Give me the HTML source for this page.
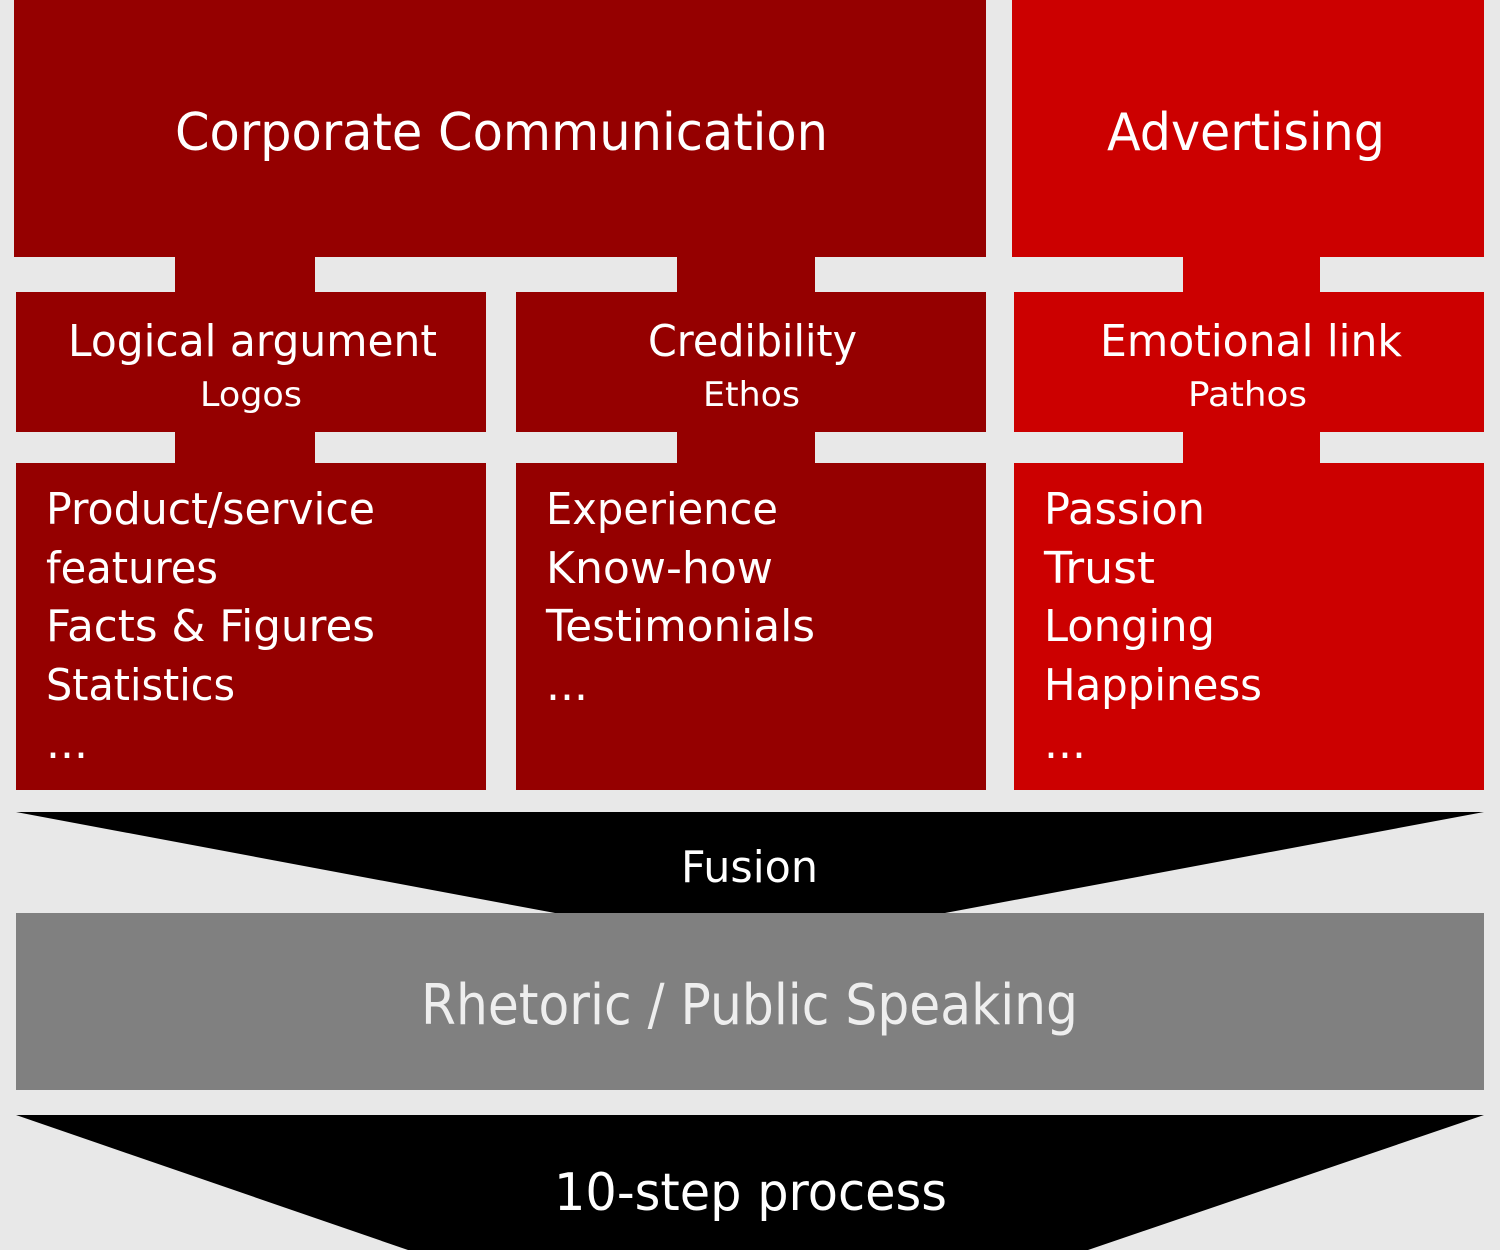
<!DOCTYPE html>
<html><head><meta charset="utf-8"><style>
html,body{margin:0;padding:0;background:#e8e8e8;}
svg{display:block;}
text{font-family:"DejaVu Sans","Liberation Sans",sans-serif;fill:#fff;}
</style></head><body>
<svg width="1500" height="1250" viewBox="0 0 1500 1250" xmlns="http://www.w3.org/2000/svg">
<rect width="1500" height="1250" fill="#e8e8e8"/>
<!-- top -->
<rect x="14" y="0" width="972" height="257" fill="#950000"/>
<rect x="1012" y="0" width="472" height="257" fill="#cc0000"/>
<!-- connectors -->
<rect x="175" y="255" width="140" height="40" fill="#950000"/>
<rect x="677" y="255" width="138" height="40" fill="#950000"/>
<rect x="1183" y="255" width="137" height="40" fill="#cc0000"/>
<rect x="175" y="430" width="140" height="35" fill="#950000"/>
<rect x="677" y="430" width="138" height="35" fill="#950000"/>
<rect x="1183" y="430" width="137" height="35" fill="#cc0000"/>
<!-- mid -->
<rect x="16" y="292" width="470" height="140" fill="#950000"/>
<rect x="516" y="292" width="470" height="140" fill="#950000"/>
<rect x="1014" y="292" width="470" height="140" fill="#cc0000"/>
<!-- bottom -->
<rect x="16" y="463" width="470" height="327" fill="#950000"/>
<rect x="516" y="463" width="470" height="327" fill="#950000"/>
<rect x="1014" y="463" width="470" height="327" fill="#cc0000"/>
<!-- fusion -->
<polygon points="16,812 1484,812 945,913 555,913" fill="#000"/>
<rect x="16" y="913" width="1468" height="177" fill="#808080"/>
<polygon points="16,1115 1484,1115 1088,1250 408,1250" fill="#000"/>

<g lengthAdjust="spacingAndGlyphs">
<text x="175" y="150" font-size="52" textLength="653" lengthAdjust="spacingAndGlyphs">Corporate Communication</text>
<text x="1107" y="150" font-size="52" textLength="278" lengthAdjust="spacingAndGlyphs">Advertising</text>
<text x="68" y="356" font-size="44" textLength="369" lengthAdjust="spacingAndGlyphs">Logical argument</text>
<text x="200" y="406" font-size="34" textLength="102" lengthAdjust="spacingAndGlyphs">Logos</text>
<text x="648" y="356" font-size="44" textLength="209" lengthAdjust="spacingAndGlyphs">Credibility</text>
<text x="703" y="406" font-size="34" textLength="97" lengthAdjust="spacingAndGlyphs">Ethos</text>
<text x="1100" y="356" font-size="44" textLength="302" lengthAdjust="spacingAndGlyphs">Emotional link</text>
<text x="1188" y="406" font-size="34" textLength="119" lengthAdjust="spacingAndGlyphs">Pathos</text>

<text x="46" y="524" font-size="44" textLength="329" lengthAdjust="spacingAndGlyphs">Product/service</text>
<text x="46" y="583" font-size="44" textLength="172" lengthAdjust="spacingAndGlyphs">features</text>
<text x="46" y="641" font-size="44" textLength="329" lengthAdjust="spacingAndGlyphs">Facts &amp; Figures</text>
<text x="46" y="700" font-size="44" textLength="189" lengthAdjust="spacingAndGlyphs">Statistics</text>
<text x="46" y="758" font-size="44">...</text>

<text x="546" y="524" font-size="44" textLength="232" lengthAdjust="spacingAndGlyphs">Experience</text>
<text x="546" y="583" font-size="44" textLength="227" lengthAdjust="spacingAndGlyphs">Know-how</text>
<text x="546" y="641" font-size="44" textLength="269" lengthAdjust="spacingAndGlyphs">Testimonials</text>
<text x="546" y="700" font-size="44">...</text>

<text x="1044" y="524" font-size="44" textLength="161" lengthAdjust="spacingAndGlyphs">Passion</text>
<text x="1044" y="583" font-size="44" textLength="111" lengthAdjust="spacingAndGlyphs">Trust</text>
<text x="1044" y="641" font-size="44" textLength="171" lengthAdjust="spacingAndGlyphs">Longing</text>
<text x="1044" y="700" font-size="44" textLength="218" lengthAdjust="spacingAndGlyphs">Happiness</text>
<text x="1044" y="758" font-size="44">...</text>

<text x="681" y="882" font-size="44" textLength="137" lengthAdjust="spacingAndGlyphs">Fusion</text>
<text x="421" y="1024" font-size="56" textLength="657" lengthAdjust="spacingAndGlyphs" style="fill:#eeeeee">Rhetoric / Public Speaking</text>
<text x="554" y="1210" font-size="52" textLength="393" lengthAdjust="spacingAndGlyphs">10-step process</text>
</g>
</svg>
</body></html>
